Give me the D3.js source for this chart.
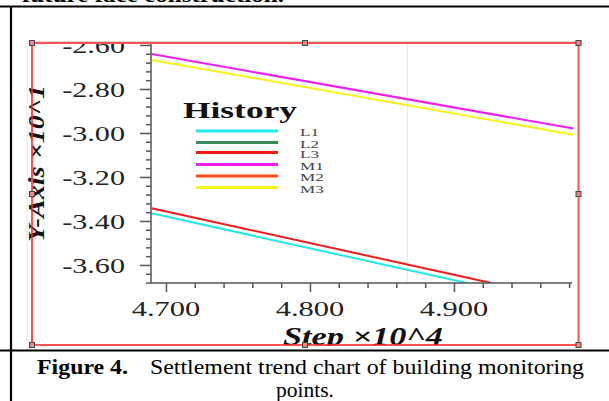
<!DOCTYPE html>
<html><head><meta charset="utf-8">
<script src="https://cdn.jsdelivr.net/npm/d3@7"></script>
<style>html,body{margin:0;padding:0;background:#fff;overflow:hidden}</style>
</head><body>
<svg id="c" width="609" height="401"></svg>
<script>
// ---- data (x in Step ×10^4, y in ×10^1) ----
const seriesNames = ["L1", "L2", "L3", "M1", "M2", "M3"];
const seriesColors = ["#22e8e8", "#3a8a5c", "#f21b1b", "#f21ef0", "#ff4a1a", "#f5f51a"];
const L1Steps = [4.690, 4.909], L1Values = [-3.365, -3.682];
const L2Steps = [], L2Values = [];
const L3Steps = [4.690, 4.926], L3Values = [-3.342, -3.682];
const M1Steps = [4.690, 4.983], M1Values = [-2.641, -2.980];
const M2Steps = [], M2Values = [];
const M3Steps = [4.690, 4.983], M3Values = [-2.668, -3.008];
const xMajorTicks = [4.7, 4.8, 4.9];
const xTickLabels = ["4.700", "4.800", "4.900"];
const yMajorTicks = [-2.6, -2.8, -3.0, -3.2, -3.4, -3.6];
const yTickLabels = ["-2.60", "-2.80", "-3.00", "-3.20", "-3.40", "-3.60"];

const seriesSteps = [L1Steps, L2Steps, L3Steps, M1Steps, M2Steps, M3Steps];
const seriesValues = [L1Values, L2Values, L3Values, M1Values, M2Values, M3Values];

const svg = d3.select("#c");
const serif = "'Liberation Serif','Times New Roman',serif";

function stretch(sel, sx) {
  sel.each(function () {
    const w = this.getComputedTextLength();
    d3.select(this).attr("textLength", w * sx).attr("lengthAdjust", "spacingAndGlyphs");
  });
}

// page frame (table lines)
svg.append("line").attr("x1", 0).attr("x2", 609).attr("y1", 6.5).attr("y2", 6.5).attr("stroke", "#000").attr("stroke-width", 2.2);
svg.append("line").attr("x1", 11).attr("x2", 11).attr("y1", 6).attr("y2", 401).attr("stroke", "#000").attr("stroke-width", 2.2);
svg.append("line").attr("x1", 0).attr("x2", 609).attr("y1", 350.5).attr("y2", 350.5).attr("stroke", "#000").attr("stroke-width", 2.2);

// clipped text from previous paragraph
svg.append("text").attr("x", 22).attr("y", 2).attr("font-family", serif).attr("font-size", 21).attr("font-weight", "bold")
  .text("future face construction.").attr("textLength", 262).attr("lengthAdjust", "spacingAndGlyphs");

// scales
const x = d3.scaleLinear().domain([4.6896, 4.982]).range([151, 572]);
const y = d3.scaleLinear().domain([-3.682, -2.5955]).range([283, 44]);

const defs = svg.append("defs");
defs.append("clipPath").attr("id", "frameClip").append("rect").attr("x", 32).attr("y", 44).attr("width", 546).attr("height", 302);
defs.append("clipPath").attr("id", "plotClip").append("rect").attr("x", 151).attr("y", 43).attr("width", 425).attr("height", 240);

// faint guide lines
svg.append("line").attr("x1", 27).attr("x2", 27).attr("y1", 43).attr("y2", 345).attr("stroke", "#e6e6e6").attr("stroke-width", 1);
svg.append("line").attr("x1", 28).attr("x2", 582).attr("y1", 41.5).attr("y2", 41.5).attr("stroke", "#d8d8d8").attr("stroke-width", 1);
svg.append("line").attr("x1", 407.5).attr("x2", 407.5).attr("y1", 43).attr("y2", 283).attr("stroke", "#e8e8e8").attr("stroke-width", 1);

// series lines
const lineGen = d3.line().x(d => x(d[0])).y(d => y(d[1]));
const gLines = svg.append("g").attr("clip-path", "url(#plotClip)");
seriesNames.forEach((n, i) => {
  const pts = seriesSteps[i].map((s, k) => [s, seriesValues[i][k]]);
  if (pts.length < 2) return;
  gLines.append("path").attr("d", lineGen(pts)).attr("fill", "none").attr("stroke", seriesColors[i]).attr("stroke-width", 2);
});

// axes
const axisColor = "#555";
const xAxis = d3.axisBottom(x).tickValues(d3.range(4.70, 4.9801, 0.02)).tickSize(5).tickFormat("");
const gx = svg.append("g").attr("transform", "translate(0,283)").call(xAxis);
gx.select(".domain").attr("d", "M151,0H572").attr("stroke", axisColor).attr("stroke-width", 1.5);
gx.selectAll(".tick line").attr("stroke", axisColor).attr("stroke-width", 1.5)
  .attr("y2", d => xMajorTicks.some(t => Math.abs(t - d) < 1e-6) ? 9 : 5);

const yAxis = d3.axisLeft(y).tickValues(d3.range(-3.68, -2.599, 0.04)).tickSize(5).tickFormat("");
const gy = svg.append("g").attr("transform", "translate(151,0)").call(yAxis);
gy.select(".domain").attr("d", "M0,44V283").attr("stroke", axisColor).attr("stroke-width", 1.5);
gy.selectAll(".tick line").attr("stroke", axisColor).attr("stroke-width", 1.5)
  .attr("x2", d => yMajorTicks.some(t => Math.abs(t - d) < 1e-6) ? -11 : -5);

// tick labels
const xl = svg.append("g").selectAll("text").data(xMajorTicks).join("text")
  .attr("x", d => x(d)).attr("y", 315.5).attr("text-anchor", "middle")
  .attr("font-family", serif).attr("font-size", 21).attr("fill", "#222")
  .text((d, i) => xTickLabels[i]);
stretch(xl, 1.45);

const yl = svg.append("g").attr("clip-path", "url(#frameClip)").selectAll("text").data(yMajorTicks).join("text")
  .attr("x", 125).attr("y", d => y(d) + 8.5).attr("text-anchor", "end")
  .attr("font-family", serif).attr("font-size", 22).attr("fill", "#222")
  .text((d, i) => yTickLabels[i]);
stretch(yl, 1.37);

// axis titles
svg.append("text").attr("transform", "translate(43.5,163.5) rotate(-90)").attr("text-anchor", "middle")
  .attr("font-family", serif).attr("font-size", 23).attr("font-weight", "bold").attr("font-style", "italic").attr("fill", "#111")
  .text("Y-Axis ×10^1").attr("textLength", 157).attr("lengthAdjust", "spacingAndGlyphs");

svg.append("g").attr("clip-path", "url(#frameClip)").append("text").attr("x", 363).attr("y", 344.5).attr("text-anchor", "middle")
  .attr("font-family", serif).attr("font-size", 25).attr("font-weight", "bold").attr("font-style", "italic").attr("fill", "#111")
  .text("Step ×10^4").attr("textLength", 160).attr("lengthAdjust", "spacingAndGlyphs");

// legend
svg.append("text").attr("x", 183).attr("y", 118).attr("font-family", serif).attr("font-size", 23).attr("font-weight", "bold").attr("fill", "#111")
  .text("History").attr("textLength", 114).attr("lengthAdjust", "spacingAndGlyphs");
const legY = [131, 142.5, 152.5, 164.5, 176, 187.5];
const lg = svg.append("g");
seriesNames.forEach((n, i) => {
  lg.append("line").attr("x1", 196).attr("x2", 278).attr("y1", legY[i]).attr("y2", legY[i])
    .attr("stroke", seriesColors[i]).attr("stroke-width", 3);
});
const ll = lg.selectAll("text").data(seriesNames).join("text")
  .attr("x", 300).attr("y", (d, i) => legY[i] + 5)
  .attr("font-family", serif).attr("font-size", 11).attr("fill", "#444").text(d => d);
stretch(ll, 1.55);

// red selection frame with handles
svg.append("rect").attr("x", 32).attr("y", 43).attr("width", 546.5).attr("height", 302)
  .attr("fill", "none").attr("stroke", "rgba(255,40,40,0.8)").attr("stroke-width", 2);
const handles = [[32, 43], [305, 43], [578.5, 43], [32, 194], [578.5, 194], [32, 345], [305, 345], [578.5, 345]];
svg.append("g").selectAll("rect").data(handles).join("rect")
  .attr("x", d => d[0] - 2.5).attr("y", d => d[1] - 2.5).attr("width", 5).attr("height", 5)
  .attr("fill", "#e88").attr("stroke", "#444").attr("stroke-width", 1);

// caption
svg.append("text").attr("x", 37).attr("y", 374).attr("font-family", serif).attr("font-size", 21.5).attr("font-weight", "bold").attr("fill", "#000")
  .text("Figure 4.").attr("textLength", 91).attr("lengthAdjust", "spacingAndGlyphs");
svg.append("text").attr("x", 150).attr("y", 374).attr("font-family", serif).attr("font-size", 21.5).attr("fill", "#000")
  .text("Settlement trend chart of building monitoring").attr("textLength", 434).attr("lengthAdjust", "spacingAndGlyphs");
svg.append("text").attr("x", 305).attr("y", 397).attr("text-anchor", "middle").attr("font-family", serif).attr("font-size", 21.5).attr("fill", "#000")
  .text("points.");
</script>
</body></html>
